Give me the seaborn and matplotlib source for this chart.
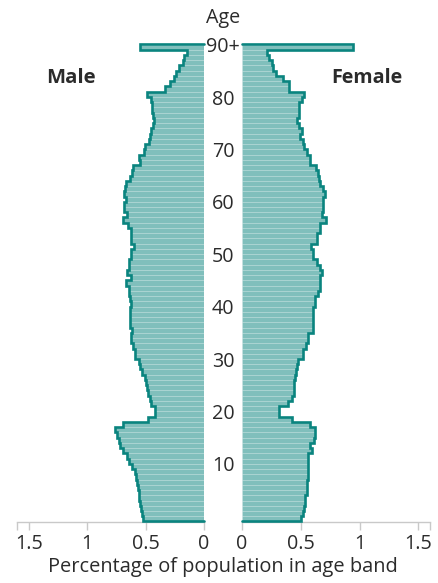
import numpy as np
import pandas as pd
import matplotlib
matplotlib.use("Agg")
import matplotlib.pyplot as plt
import matplotlib.transforms as mtransforms
import seaborn as sns

# Share of population (%) by single year of age, 0 .. 90+
ages = list(range(91))
age_labels = {10: "10", 20: "20", 30: "30", 40: "40", 50: "50",
              60: "60", 70: "70", 80: "80", 90: "90+"}

male = [0.52, 0.53, 0.537, 0.545, 0.555, 0.56, 0.565, 0.574, 0.585, 0.594,
        0.62, 0.64, 0.66, 0.69, 0.72, 0.73, 0.745, 0.765, 0.69, 0.48,
        0.423, 0.423, 0.451, 0.465, 0.48, 0.49, 0.497, 0.508, 0.531, 0.545,
        0.56, 0.594, 0.594, 0.607, 0.625, 0.625, 0.616, 0.636, 0.636, 0.636,
        0.636, 0.625, 0.636, 0.645, 0.645, 0.667, 0.622, 0.656, 0.645, 0.645,
        0.622, 0.622, 0.602, 0.622, 0.622, 0.622, 0.65, 0.696, 0.66, 0.687,
        0.687, 0.667, 0.687, 0.68, 0.667, 0.63, 0.615, 0.61, 0.55, 0.553,
        0.51, 0.508, 0.474, 0.46, 0.45, 0.44, 0.432, 0.44, 0.446, 0.446,
        0.45, 0.488, 0.33, 0.29, 0.26, 0.24, 0.215, 0.176, 0.17, 0.148,
        0.55]

female = [0.5, 0.517, 0.53, 0.537, 0.537, 0.551, 0.551, 0.551, 0.56, 0.565,
          0.565, 0.565, 0.565, 0.593, 0.579, 0.613, 0.625, 0.622, 0.579, 0.423,
          0.318, 0.318, 0.395, 0.423, 0.446, 0.446, 0.446, 0.451, 0.46, 0.47,
          0.48, 0.522, 0.522, 0.545, 0.565, 0.565, 0.602, 0.602, 0.602, 0.602,
          0.602, 0.622, 0.622, 0.65, 0.664, 0.664, 0.664, 0.684, 0.66, 0.642,
          0.607, 0.607, 0.588, 0.636, 0.636, 0.664, 0.664, 0.716, 0.679, 0.69,
          0.693, 0.69, 0.707, 0.693, 0.664, 0.655, 0.65, 0.63, 0.58, 0.579,
          0.551, 0.525, 0.52, 0.49, 0.508, 0.488, 0.466, 0.488, 0.488, 0.488,
          0.51, 0.528, 0.403, 0.403, 0.352, 0.29, 0.267, 0.253, 0.233, 0.216,
          0.948]

x_ticks = [0, 0.5, 1, 1.5]
x_tick_labels = ["0", "0.5", "1", "1.5"]
x_max = 1.6

df = pd.DataFrame({"age": ages, "male": male, "female": female})

FILL = "#80bfbc"
LINE = "#0a847f"
TEXT = "#2b2b2b"
AXIS = "#c9c9c9"

sns.set_theme(style="white")
plt.rcParams["font.family"] = ["Open Sans", "DejaVu Sans"]

W, H = 438, 583
fig = plt.figure(figsize=(W / 100, H / 100), dpi=100)
bottom_px, top_px = 521.5, 44.5
ax_b = (H - bottom_px) / H
ax_h = (bottom_px - top_px) / H
axL = fig.add_axes([17 / W, ax_b, (204 - 17) / W, ax_h])
axR = fig.add_axes([242 / W, ax_b, (430 - 242) / W, ax_h])


def silhouette(vals):
    """Step outline around the outer ends of the bars."""
    v = np.asarray(vals, dtype=float)
    a = np.arange(len(v))[::-1]
    xs = np.concatenate([[0], np.repeat(v[::-1], 2), [0]])
    ys = np.concatenate([[a[0] + 0.5],
                         (np.repeat(a, 2) + np.tile([0.5, -0.5], len(v))),
                         [-0.5]])
    return xs, ys


for ax, col in ((axL, "male"), (axR, "female")):
    sns.barplot(data=df, x=col, y="age", orient="y", native_scale=True,
                width=1, color=FILL, saturation=1,
                edgecolor=(1, 1, 1, 0.12), linewidth=0.5, ax=ax)
    xs, ys = silhouette(df[col])
    ax.plot(xs, ys, color=LINE, lw=1.9, solid_joinstyle="miter",
            clip_on=False, zorder=5)
    ax.set_ylim(-0.5, 90.5)
    ax.set_xlabel("")
    ax.set_ylabel("")
    ax.set_yticks([])
    for s in ("top", "left", "right"):
        ax.spines[s].set_visible(False)
    ax.spines["bottom"].set_color(AXIS)
    ax.spines["bottom"].set_linewidth(1.0)
    ax.set_xticks(x_ticks)
    ax.set_xticklabels(x_tick_labels)
    ax.set_xticks([x_max], minor=True)
    ax.tick_params(axis="x", which="both", bottom=True, length=5.5,
                   width=1.0, color=AXIS, labelsize=14.2,
                   labelcolor=TEXT, pad=3.5)
    ax.patch.set_alpha(0)

axL.set_xlim(x_max, 0)
axR.set_xlim(0, x_max)

# Age labels in the gap between the two halves
trans = mtransforms.blended_transform_factory(fig.transFigure, axL.transData)
for a, lab in age_labels.items():
    fig.text(223 / W, a, lab, transform=trans, ha="center", va="center",
             fontsize=14.2, color=TEXT)

fig.text(223 / W, 1 - 18 / H, "Age", ha="center", va="center",
         fontsize=14.2, color=TEXT)
fig.text(71 / W, 1 - 78 / H, "Male", ha="center", va="center",
         fontsize=14.6, fontweight="bold", color=TEXT)
fig.text(367 / W, 1 - 78 / H, "Female", ha="center", va="center",
         fontsize=14.2, fontweight="bold", color=TEXT)
fig.text(223 / W, 1 - 567 / H, "Percentage of population in age band",
         ha="center", va="center", fontsize=14.4, color=TEXT)

fig.savefig("out.png", dpi=100)
